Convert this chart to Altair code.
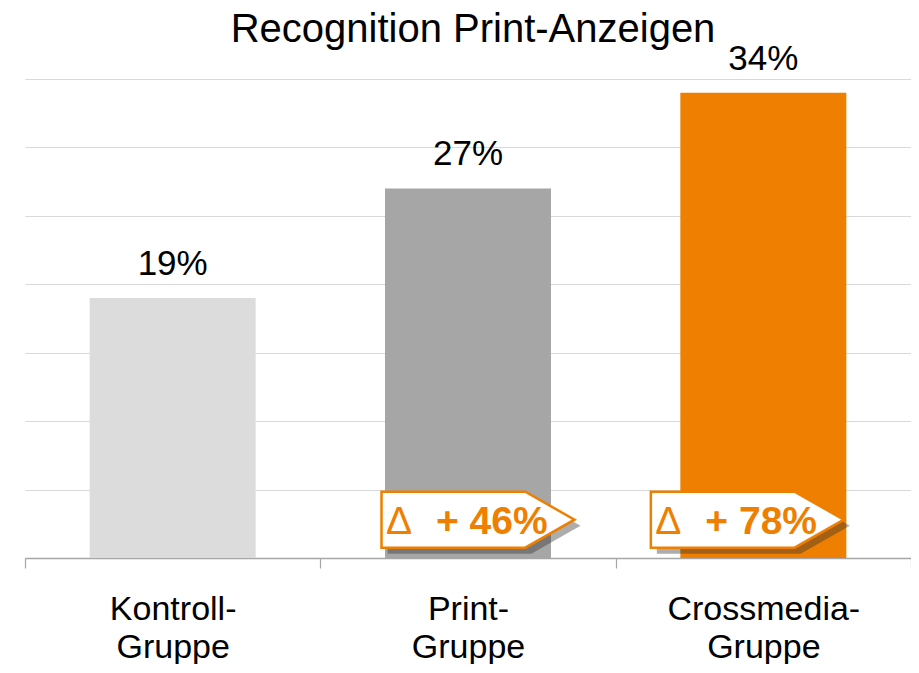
import altair as alt
import pandas as pd

# ---- data ----
categories = ["Kontroll- Gruppe", "Print- Gruppe", "Crossmedia- Gruppe"]
values = [19, 27, 34]
value_labels = ["19%", "27%", "34%"]
bar_colors = ["#DCDCDC", "#A6A6A6", "#EE7F00"]
delta_categories = ["Print- Gruppe", "Crossmedia- Gruppe"]
delta_labels = ["+ 46%", "+ 78%"]
y_ticks = [0, 5, 10, 15, 20, 25, 30, 35]
title_text = "Recognition Print-Anzeigen"

ORANGE = "#EE7F00"
FONT = "Liberation Sans"
W, H = 886, 479

df = pd.DataFrame({"cat": categories, "value": values, "label": value_labels, "color": bar_colors})

x_enc = alt.X(
    "cat:N",
    sort=categories,
    scale=alt.Scale(paddingInner=0, paddingOuter=0),
    axis=alt.Axis(
        title=None,
        labelExpr="split(datum.label, ' ')",
        labelAngle=0,
        labelFontSize=34,
        labelFont=FONT,
        labelColor="black",
        labelLineHeight=38,
        labelPadding=24,
        labelBaseline="top",
        labelLimit=400,
        tickSize=10,
        tickBand="extent",
        tickColor="#A6A6A6",
        tickWidth=1.2,
        domainColor="#A6A6A6",
        domainWidth=1.5,
    ),
)
y_enc = alt.Y(
    "value:Q",
    scale=alt.Scale(domain=[0, 35], nice=False, zero=True),
    axis=alt.Axis(
        title=None,
        values=y_ticks,
        labels=False,
        ticks=False,
        domain=False,
        grid=True,
        gridColor="#D9D9D9",
        gridWidth=1.2,
    ),
)

bars = alt.Chart(df).mark_bar(width=alt.RelativeBandSize(0.562)).encode(
    x=x_enc, y=y_enc, color=alt.Color("color:N", scale=None)
)

value_text = alt.Chart(df).mark_text(
    baseline="alphabetic", dy=-23, fontSize=35, font=FONT, color="black"
).encode(x=alt.X("cat:N", sort=categories), y="value:Q", text="label:N")

title_mark = alt.Chart(pd.DataFrame({"t": [title_text]})).mark_text(
    baseline="alphabetic", align="center", fontSize=40, font=FONT, color="black"
).encode(x=alt.value(W / 2 + 5), y=alt.value(-37), text="t:N")

ARROW = "M -1 -0.29 L 0.49 -0.29 L 1 0 L 0.49 0.29 L -1 0.29 Z"
ARROW_SIZE = 193 ** 2
ANN_Y = 2.8


def annotation(cat, label, off):
    d = pd.DataFrame({"cat": [cat], "label": [label], "delta": ["Δ"]})
    base = alt.Chart(d).encode(x=alt.X("cat:N", sort=categories), y=alt.datum(ANN_Y))
    shadow = base.mark_point(
        shape=ARROW, size=ARROW_SIZE, filled=True, fill="#333333", opacity=0.4,
        strokeWidth=0, xOffset=off + 6, yOffset=6,
    )
    box = base.mark_point(
        shape=ARROW, size=ARROW_SIZE, filled=True, fill="white", opacity=1,
        stroke=ORANGE, strokeWidth=2.5, xOffset=off,
    )
    delta = base.mark_text(
        align="center", baseline="alphabetic", dx=off - 79, dy=14,
        fontSize=39, font=FONT, color=ORANGE,
    ).encode(text="delta:N")
    txt = base.mark_text(
        align="left", baseline="alphabetic", dx=off - 42, dy=14,
        fontSize=39, font=FONT, fontWeight="bold", color=ORANGE,
    ).encode(text="label:N")
    return [shadow, box, delta, txt]


ann_layers = annotation(delta_categories[0], delta_labels[0], 10) + annotation(
    delta_categories[1], delta_labels[1], -16
)

chart = (
    alt.layer(bars, value_text, title_mark, *ann_layers)
    .properties(
        width=W,
        height=H,
        autosize=alt.AutoSizeParams(type="none"),
        padding={"left": 17, "top": 71, "right": 0, "bottom": 106},
    )
    .configure_view(stroke=None)
)

chart.save("out.html", embed_options={"renderer": "svg", "actions": False})
